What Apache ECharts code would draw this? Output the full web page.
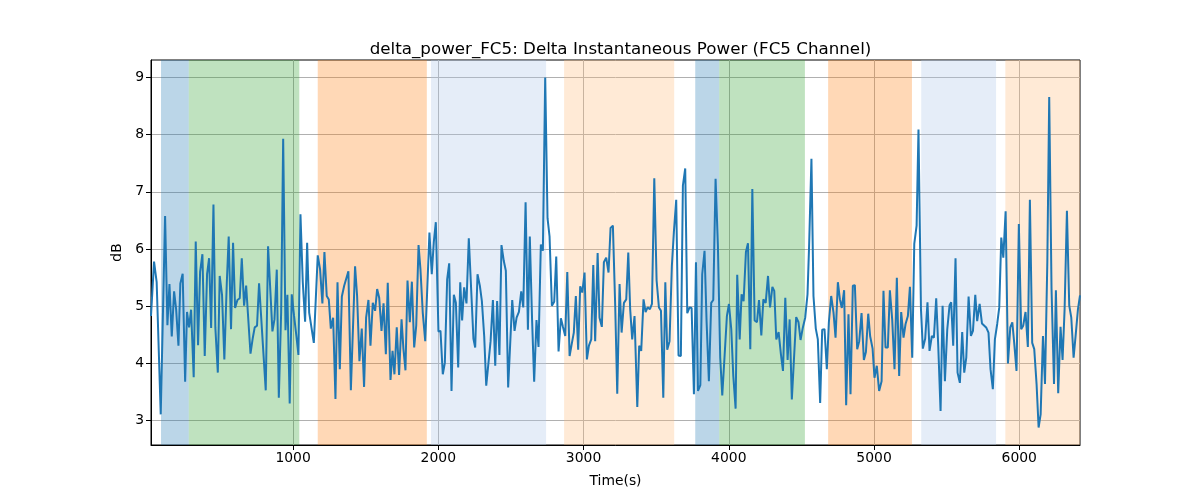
<!DOCTYPE html>
<html>
<head>
<meta charset="utf-8">
<script src="https://cdn.jsdelivr.net/npm/echarts@6/dist/echarts.min.js"></script>
<style>html,body{margin:0;padding:0;background:#fff}#c{width:1200px;height:500px}</style>
</head>
<body>
<div id="c"></div>
<script>
// ---- data ----
const times = [22,43,61,89,119,135,149,165,181,195,211,224,240,257,270,284,298,316,330,346,360,376,392,408,422,436,452,465,482,495,511,527,544,557,573,587,601,617,633,647,663,677,707,723,736,752,766,812,828,858,872,888,902,918,932,948,961,977,991,1007,1023,1037,1051,1067,1083,1097,1111,
1143,1170,1186,1202,1216,1232,1246,1260,1276,1292,1306,1322,1336,1352,1368,1381,1398,1427,1441,1457,1473,1489,1503,1519,1533,1549,1565,1579,1593,1609,1623,1639,1652,1671,1685,1698,1714,1730,1747,1760,1774,1788,1804,1818,1834,1848,1864,1877,1893,1910,1939,1955,1969,1983,2001,2015,2031,2045,2061,2075,2091,2107,2121,2137,2151,2164,2178,2194,2210,
2242,2254,2270,2286,2300,2316,2330,2343,2360,2376,2392,2405,2421,2435,2451,2465,2481,2509,2525,2539,2555,2571,2585,2601,2617,2630,2646,2660,2676,2690,2706,2720,2736,2752,2766,2782,2798,2812,2828,2844,2858,2874,2888,2904,2920,2933,2947,2963,2977,2991,3007,3023,3037,3053,3067,3080,3097,3110,3126,3140,3156,3172,3186,3202,3218,3232,3248,3262,3278,3294,3308,
3321,3335,3351,3370,3383,3397,3413,3427,3441,3457,3471,3487,3503,3519,3533,3549,3563,3576,3592,3608,3622,3638,3654,3670,3684,3700,3714,3730,3744,3760,3774,3788,3804,3817,3833,3847,3863,3879,3893,3909,3925,3941,3955,3971,3987,4001,4017,4031,4047,4058,4075,4088,4102,4118,4132,4148,4162,4178,4194,4208,4224,4238,4254,4270,4284,4300,4313,4327,4343,4359,4373,4389,4405,4419,
4434,4464,4480,4494,4510,4526,4542,4553,4569,4583,4599,4613,4629,4643,4659,4675,4689,4705,4721,4735,4751,4765,4778,4794,4808,4824,4838,4854,4868,4884,4898,4914,4930,4944,4960,4973,4990,5003,5019,5035,5052,5065,5079,5095,5109,5125,5141,5157,5173,5187,5203,5217,5233,5247,5263,5277,5293,5306,5323,5336,5352,5368,5382,5398,5412,5428,5442,5458,5472,5488,5504,5520,
5531,5545,5561,5575,5591,5607,5621,5635,5651,5667,5681,5697,5710,5727,5743,5756,5772,5788,5802,5818,5832,5848,5862,5876,5890,5906,5922,5938,5952,5965,5981,5997,6013,6027,6043,6059,6073,6089,6103,6119,6133,6147,6163,6177,6193,6206,6222,6239,6252,6268,6284,6298,6312,6328,6344,6358,6374,6388,6404,6418];

const powerDb = [4.83,5.78,5.42,3.11,6.58,4.67,5.39,4.47,5.26,4.95,4.31,5.40,5.57,3.68,4.90,4.63,4.94,3.76,6.13,4.32,5.60,5.91,4.13,5.56,5.84,4.62,6.78,4.63,3.84,5.53,5.20,4.07,5.42,6.22,4.60,6.11,4.97,5.11,5.14,5.84,5.01,5.36,4.17,4.45,4.63,4.66,5.40,3.53,6.05,4.56,4.77,5.64,3.40,4.89,7.93,4.58,5.20,3.30,5.21,4.83,4.48,4.15,6.61,5.42,4.73,6.11,4.89,
4.36,5.89,5.65,5.05,5.95,5.18,5.12,4.61,4.80,3.38,5.42,3.90,5.17,5.36,5.50,5.61,3.53,5.70,5.18,4.04,4.61,3.59,4.80,5.11,4.31,5.06,4.92,5.30,5.15,4.57,5.05,4.16,5.41,3.71,4.22,3.81,4.63,3.80,4.77,4.25,3.88,5.45,4.72,5.43,4.28,4.66,6.07,5.65,4.89,4.39,6.29,5.56,6.12,6.47,4.56,4.57,3.81,4.01,5.47,5.75,3.52,5.20,5.06,3.93,5.42,4.75,5.33,5.05,6.19,
4.43,4.28,5.56,5.36,5.09,4.48,3.61,3.64,4.39,5.11,3.96,5.09,4.15,6.07,5.79,5.62,3.58,5.11,4.57,4.80,4.90,5.26,4.98,6.82,4.59,6.22,4.74,3.68,4.76,4.29,6.08,5.97,9.00,6.54,6.22,5.01,5.08,5.87,4.21,4.79,4.64,4.48,5.60,4.13,4.36,4.54,5.18,4.24,5.35,5.24,5.59,4.07,4.31,4.42,5.72,4.39,5.93,4.80,4.64,5.77,5.85,5.59,6.37,6.41,5.01,3.47,5.39,4.54,5.06,5.12,5.94,
4.95,4.42,4.83,3.24,4.31,4.22,5.12,4.90,4.98,4.95,5.04,7.24,5.45,4.98,4.92,3.40,5.42,4.24,4.39,5.70,6.30,6.86,4.14,4.13,7.11,7.41,4.88,4.98,4.97,3.46,5.77,3.52,3.62,5.56,5.97,4.74,3.69,5.06,5.11,7.23,6.06,4.10,3.44,4.13,4.83,5.04,4.60,3.78,3.21,5.55,4.42,5.21,5.09,5.95,6.10,4.25,7.05,4.75,4.72,5.11,4.49,5.12,5.06,5.53,4.98,5.34,5.27,4.42,4.55,4.16,3.87,5.15,4.06,4.77,
3.37,4.81,4.72,4.41,4.63,4.80,5.21,6.06,7.58,5.18,4.61,4.42,3.31,4.59,4.60,3.90,4.72,5.18,4.89,4.45,5.42,5.12,4.97,5.28,3.27,4.86,3.46,5.36,5.37,4.25,4.39,4.88,4.06,4.20,4.87,4.48,4.26,3.75,3.96,3.52,3.69,5.27,4.28,4.28,5.28,4.77,3.90,5.50,3.78,4.90,4.45,4.69,4.83,5.34,4.10,6.09,6.41,8.09,4.95,4.26,4.43,5.07,4.22,4.48,4.45,5.14,4.31,3.17,5.01,3.69,4.59,5.02,
5.07,4.31,5.84,3.84,3.66,4.55,3.84,4.10,5.17,4.48,4.57,5.20,4.74,5.04,4.70,4.69,4.63,4.54,3.90,3.55,4.42,4.69,4.98,6.20,5.85,6.66,4.00,4.63,4.72,4.36,3.87,6.44,4.60,4.66,4.90,4.29,6.86,4.36,4.25,3.64,2.88,3.11,4.48,3.64,5.77,8.66,5.30,3.64,5.28,3.48,4.64,4.06,4.95,6.67,5.01,4.80,4.10,4.49,4.95,5.19];

// shaded intervals: [start, end, kind]
const bandStart = [91, 282, 1170, 1950, 2866, 3769, 3934, 4684, 5325, 5904];
const bandEnd   = [282, 1043, 1921, 2742, 3624, 3934, 4524, 5261, 5840, 6418];
const bandKind  = ['blue','green','orange','lightblue','lightorange','blue','green','orange','lightblue','lightorange'];

const xTicks = [1000, 2000, 3000, 4000, 5000, 6000];
const yTicks = [3, 4, 5, 6, 7, 8, 9];

const titleText = 'delta_power_FC5: Delta Instantaneous Power (FC5 Channel)';
const xName = 'Time(s)';
const yName = 'dB';

// ---- styles ----
const bandColors = {
  blue: 'rgba(31,119,180,0.3)',
  green: 'rgba(44,160,44,0.3)',
  orange: 'rgba(255,127,14,0.3)',
  lightblue: 'rgba(174,199,232,0.32)',
  lightorange: 'rgba(255,187,120,0.3)'
};
const FONT = 'DejaVu Sans';

const seriesData = times.map((t, i) => [t, powerDb[i]]);
const xMin = Math.min(...times), xMax = Math.max(...times);
const vMin = Math.min(...powerDb), vMax = Math.max(...powerDb);
const pad = (vMax - vMin) * 0.05;

const markAreaData = bandStart.map((s, i) => [
  { xAxis: s, itemStyle: { color: bandColors[bandKind[i]] } },
  { xAxis: bandEnd[i] }
]);

const chart = echarts.init(document.getElementById('c'), null, { renderer: 'canvas' });
chart.setOption({
  animation: false,
  backgroundColor: '#fff',
  title: {
    text: titleText,
    left: 615.5, top: 36, textAlign: 'center',
    textStyle: { fontFamily: FONT, fontSize: 16.7, fontWeight: 'normal', color: '#000' }
  },
  grid: { left: 151, right: 120, top: 60, bottom: 55, show: true, borderColor: '#000', borderWidth: 1, backgroundColor: 'transparent' },
  xAxis: {
    type: 'value', min: xMin, max: xMax,
    name: xName, nameLocation: 'middle', nameGap: 29,
    nameTextStyle: { fontFamily: FONT, fontSize: 13.9, color: '#000' },
    axisLine: { show: true, onZero: false, lineStyle: { color: '#000', width: 1 } },
    axisTick: { show: true, length: 5, customValues: xTicks, lineStyle: { color: '#000' } },
    axisLabel: { customValues: xTicks, formatter: v => String(v), fontFamily: FONT, fontSize: 13.9, color: '#000', margin: 6 },
    splitLine: { show: true, lineStyle: { color: '#b0b0b0', width: 1 } }
  },
  yAxis: {
    type: 'value', min: vMin - pad, max: vMax + pad,
    name: yName, nameLocation: 'middle', nameGap: 25,
    nameTextStyle: { fontFamily: FONT, fontSize: 13.9, color: '#000' },
    axisLine: { show: true, onZero: false, lineStyle: { color: '#000', width: 1 } },
    axisTick: { show: true, length: 5, customValues: yTicks, lineStyle: { color: '#000' } },
    axisLabel: { customValues: yTicks, formatter: v => String(v), fontFamily: FONT, fontSize: 13.9, color: '#000', margin: 7 },
    splitLine: { show: true, lineStyle: { color: '#b0b0b0', width: 1 } }
  },
  series: [{
    type: 'line',
    data: seriesData,
    showSymbol: false,
    lineStyle: { color: '#1f77b4', width: 2 },
    itemStyle: { color: '#1f77b4' },
    markArea: { silent: true, data: markAreaData }
  }]
});
</script>
</body>
</html>
